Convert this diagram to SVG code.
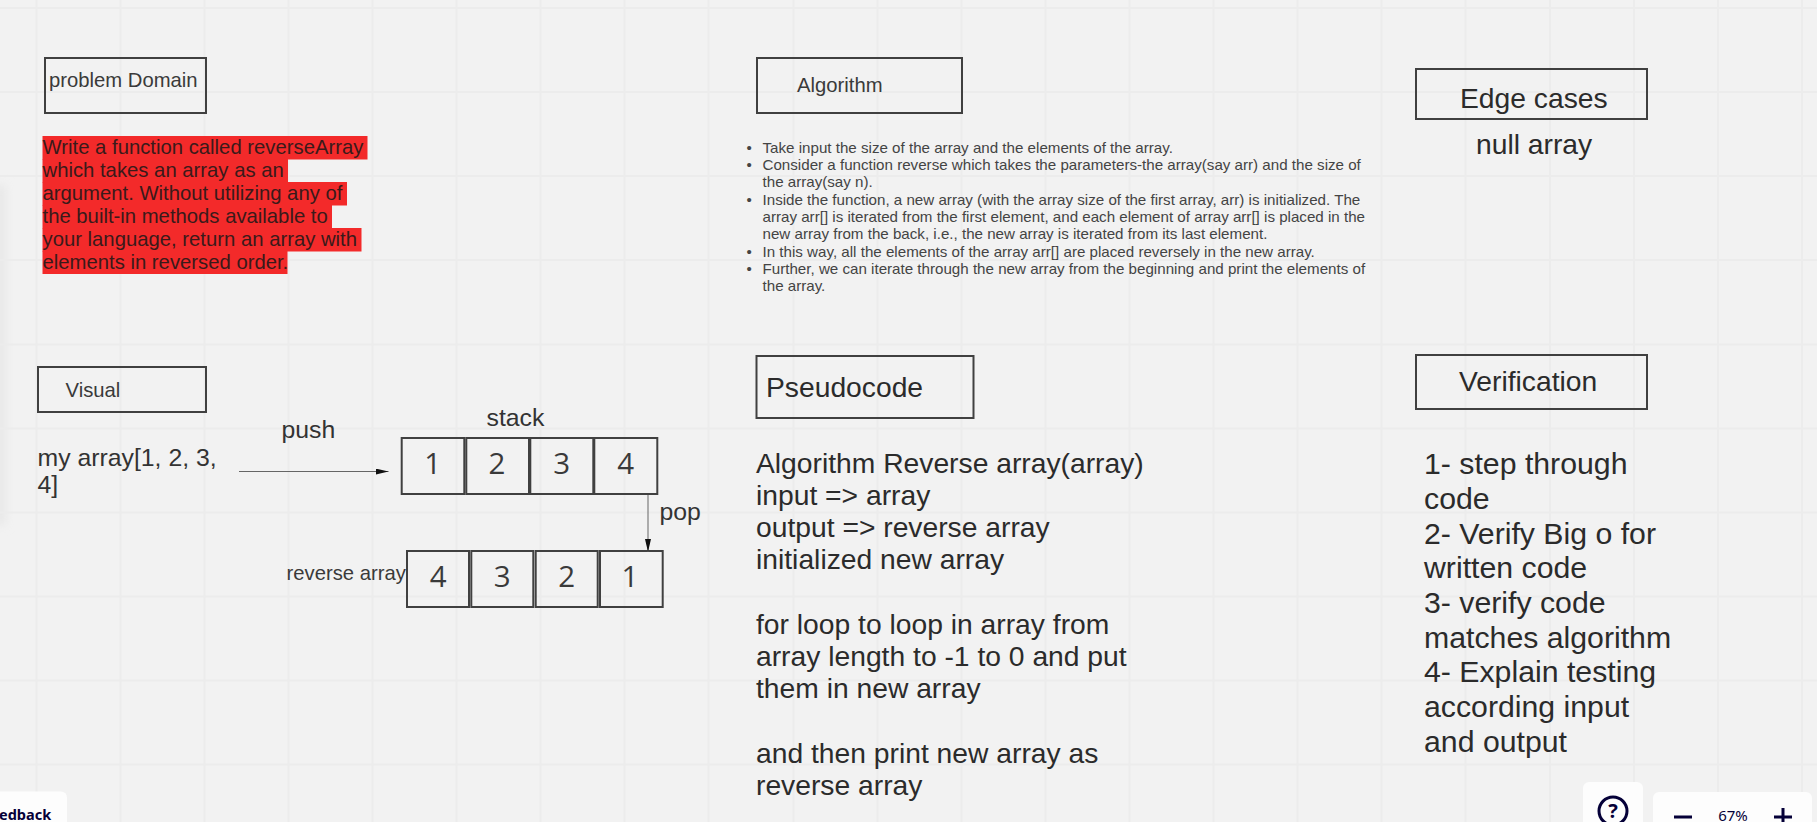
<svg xmlns="http://www.w3.org/2000/svg" width="1817" height="822" viewBox="0 0 1817 822">
<style>
text{font-family:"Liberation Sans",Arial,sans-serif;fill:#2b2b2b}
.box{fill:none;stroke:#404040;stroke-width:2}
.cell{fill:none;stroke:#404040;stroke-width:2}
.grid{stroke:#ececec;stroke-width:2;fill:none}
.t20{font-size:20.25px;fill:#3a3a3a}
.t25{font-size:24.8px;fill:#333}
.t28{font-size:28.25px}
.t30{font-size:30.25px}
.t15{font-size:15.15px;fill:#444}
.red{fill:#f32a2a}
.rt{font-size:20.3px;fill:#3a1a1a}
.dg{font-family:"Open Sans",sans-serif;font-weight:400;font-size:29.500px;text-anchor:middle;fill:#3a3a3a}
.ui{fill:#fdfdfd}
.ink{fill:none;stroke:#050038;stroke-width:3}
.uit{font-family:"Noto Sans",sans-serif;fill:#050038}
.conn{fill:none;stroke:#666;stroke-width:1}
</style>
<defs>
<marker id="arrow" markerUnits="userSpaceOnUse" markerWidth="14" markerHeight="8" refX="13" refY="3" orient="auto"><path d="M0 0L13 3L0 6Z" fill="#111"/></marker>
<filter id="soft" x="-200%" y="-20%" width="500%" height="140%"><feGaussianBlur stdDeviation="5"/></filter>
</defs>
<rect width="1817" height="822" fill="#f2f2f2"/>
<rect x="-8" y="185" width="14" height="340" fill="#e8e8e8" filter="url(#soft)"/>
<path class="grid" d="M36.5 0V822M120.5 0V822M204.5 0V822M288.5 0V822M372.5 0V822M456.5 0V822M540.5 0V822M624.5 0V822M708.5 0V822M793.5 0V822M877.5 0V822M961.5 0V822M1045.5 0V822M1129.5 0V822M1213.5 0V822M1297.5 0V822M1381.5 0V822M1465.5 0V822M1550 0V822M1634 0V822M1718 0V822M1802 0V822M0 8H1817M0 92H1817M0 176H1817M0 260H1817M0 344.500H1817M0 428.500H1817M0 512.500H1817M0 596.500H1817M0 680.500H1817M0 764.500H1817"/>
<g id="problem-domain">
<rect class="box" x="45" y="58" width="161" height="55"/>
<text class="t20" x="49" y="87">problem Domain</text>
</g>
<g id="problem-text">
<rect class="red" x="42.500" y="136" width="325" height="23.500"/>
<rect class="red" x="42.500" y="159" width="245.500" height="23.500"/>
<rect class="red" x="42.500" y="182" width="304.500" height="23.500"/>
<rect class="red" x="42.500" y="205" width="289.500" height="23.500"/>
<rect class="red" x="42.500" y="228" width="319" height="23.500"/>
<rect class="red" x="42.500" y="251" width="245" height="23"/>
<text class="rt" x="42.500" y="154">Write a function called reverseArray</text>
<text class="rt" x="42.500" y="177">which takes an array as an</text>
<text class="rt" x="42.500" y="200">argument. Without utilizing any of</text>
<text class="rt" x="42.500" y="223">the built-in methods available to</text>
<text class="rt" x="42.500" y="246">your language, return an array with</text>
<text class="rt" x="42.500" y="269">elements in reversed order.</text>
</g>
<g id="algorithm">
<rect class="box" x="757" y="58" width="205" height="55"/>
<text class="t20" x="797" y="92">Algorithm</text>
</g>
<g id="algorithm-text">
<text class="t15" x="746.500" y="153">•</text>
<text class="t15" x="762.500" y="153">Take input the size of the array and the elements of the array.</text>
<text class="t15" x="746.500" y="170">•</text>
<text class="t15" x="762.500" y="170">Consider a function reverse which takes the parameters-the array(say arr) and the size of</text>
<text class="t15" x="762.500" y="187">the array(say n).</text>
<text class="t15" x="746.500" y="205">•</text>
<text class="t15" x="762.500" y="205">Inside the function, a new array (with the array size of the first array, arr) is initialized. The</text>
<text class="t15" x="762.500" y="222">array arr[] is iterated from the first element, and each element of array arr[] is placed in the</text>
<text class="t15" x="762.500" y="239">new array from the back, i.e., the new array is iterated from its last element.</text>
<text class="t15" x="746.500" y="257">•</text>
<text class="t15" x="762.500" y="257">In this way, all the elements of the array arr[] are placed reversely in the new array.</text>
<text class="t15" x="746.500" y="274">•</text>
<text class="t15" x="762.500" y="274">Further, we can iterate through the new array from the beginning and print the elements of</text>
<text class="t15" x="762.500" y="291">the array.</text>
</g>
<g id="edge-cases">
<rect class="box" x="1416" y="69" width="231" height="50"/>
<text class="t28" x="1460" y="107.500">Edge cases</text>
</g>
<g id="edge-text"><text class="t28" x="1476" y="154">null array</text></g>
<g id="visual">
<rect class="box" x="38" y="367" width="168" height="45"/>
<text class="t20" x="65.500" y="396.500">Visual</text>
</g>
<g id="my-array">
<text class="t25" x="37.500" y="465.500">my array[1, 2, 3,</text>
<text class="t25" x="37.500" y="493">4]</text>
</g>
<g id="push-label"><text class="t25" x="281.500" y="438">push</text></g>
<g id="stack-label"><text class="t25" x="486.500" y="426">stack</text></g>
<g id="pop-label"><text class="t25" x="659.500" y="519.500">pop</text></g>
<g id="reverse-label"><text class="t20" x="286.500" y="580">reverse array</text></g>
<g id="stack">
<rect class="cell" x="401.700" y="438" width="62.600" height="56"/>
<rect class="cell" x="466.300" y="438" width="62.700" height="56"/>
<rect class="cell" x="530.300" y="438" width="63" height="56"/>
<rect class="cell" x="594.300" y="438" width="63" height="56"/>
<text class="dg" x="432.700" y="473.500">1</text>
<text class="dg" x="497" y="473.500">2</text>
<text class="dg" x="561.700" y="473.500">3</text>
<text class="dg" x="625.700" y="473.500">4</text>
</g>
<g id="reverse">
<rect class="cell" x="407" y="551" width="62" height="56"/>
<rect class="cell" x="471.300" y="551" width="62" height="56"/>
<rect class="cell" x="535.700" y="551" width="62" height="56"/>
<rect class="cell" x="600" y="551" width="62.700" height="56"/>
<text class="dg" x="438.300" y="586.700">4</text>
<text class="dg" x="502.300" y="586.700">3</text>
<text class="dg" x="566.700" y="586.700">2</text>
<text class="dg" x="630" y="586.700">1</text>
</g>
<g id="connectors">
<path class="conn" d="M239 471.500H388.500" marker-end="url(#arrow)"/>
<path class="conn" d="M648 495V552" marker-end="url(#arrow)"/>
</g>
<g id="pseudocode">
<rect class="box" x="756.500" y="356" width="217" height="62"/>
<text class="t28" x="766" y="397">Pseudocode</text>
</g>
<g id="pseudocode-text">
<text class="t28" x="756" y="472.500">Algorithm Reverse array(array)</text>
<text class="t28" x="756" y="505">input =&gt; array</text>
<text class="t28" x="756" y="537">output =&gt; reverse array</text>
<text class="t28" x="756" y="569">initialized new array</text>
<text class="t28" x="756" y="634">for loop to loop in array from</text>
<text class="t28" x="756" y="666">array length to -1 to 0 and put</text>
<text class="t28" x="756" y="698">them in new array</text>
<text class="t28" x="756" y="763">and then print new array as</text>
<text class="t28" x="756" y="795">reverse array</text>
</g>
<g id="verification">
<rect class="box" x="1416" y="355" width="231" height="54"/>
<text class="t28" x="1459" y="391">Verification</text>
</g>
<g id="verification-text">
<text class="t30" x="1424" y="474">1- step through</text>
<text class="t30" x="1424" y="508.500">code</text>
<text class="t30" x="1424" y="543.500">2- Verify Big o for</text>
<text class="t30" x="1424" y="578">written code</text>
<text class="t30" x="1424" y="612.500">3- verify code</text>
<text class="t30" x="1424" y="647.500">matches algorithm</text>
<text class="t30" x="1424" y="682">4- Explain testing</text>
<text class="t30" x="1424" y="716.500">according input</text>
<text class="t30" x="1424" y="751.500">and output</text>
</g>
<g id="feedback">
<rect class="ui" x="-10" y="791.500" width="77" height="50" rx="6"/>
<text class="uit" x="-1" y="820" font-size="14.500" font-weight="700">edback</text>
</g>
<g id="help">
<rect class="ui" x="1583" y="782" width="60" height="60" rx="6"/>
<circle class="ink" cx="1613" cy="811" r="14"/>
<text class="uit" x="1613" y="818" font-size="20" font-weight="700" text-anchor="middle">?</text>
</g>
<g id="zoom">
<rect class="ui" x="1653" y="792" width="159" height="50" rx="6"/>
<path class="ink" d="M1674 817H1692M1774 817H1792M1783 808V822"/>
<text class="uit" x="1733" y="821" font-size="15" text-anchor="middle">67%</text>
</g>
</svg>
